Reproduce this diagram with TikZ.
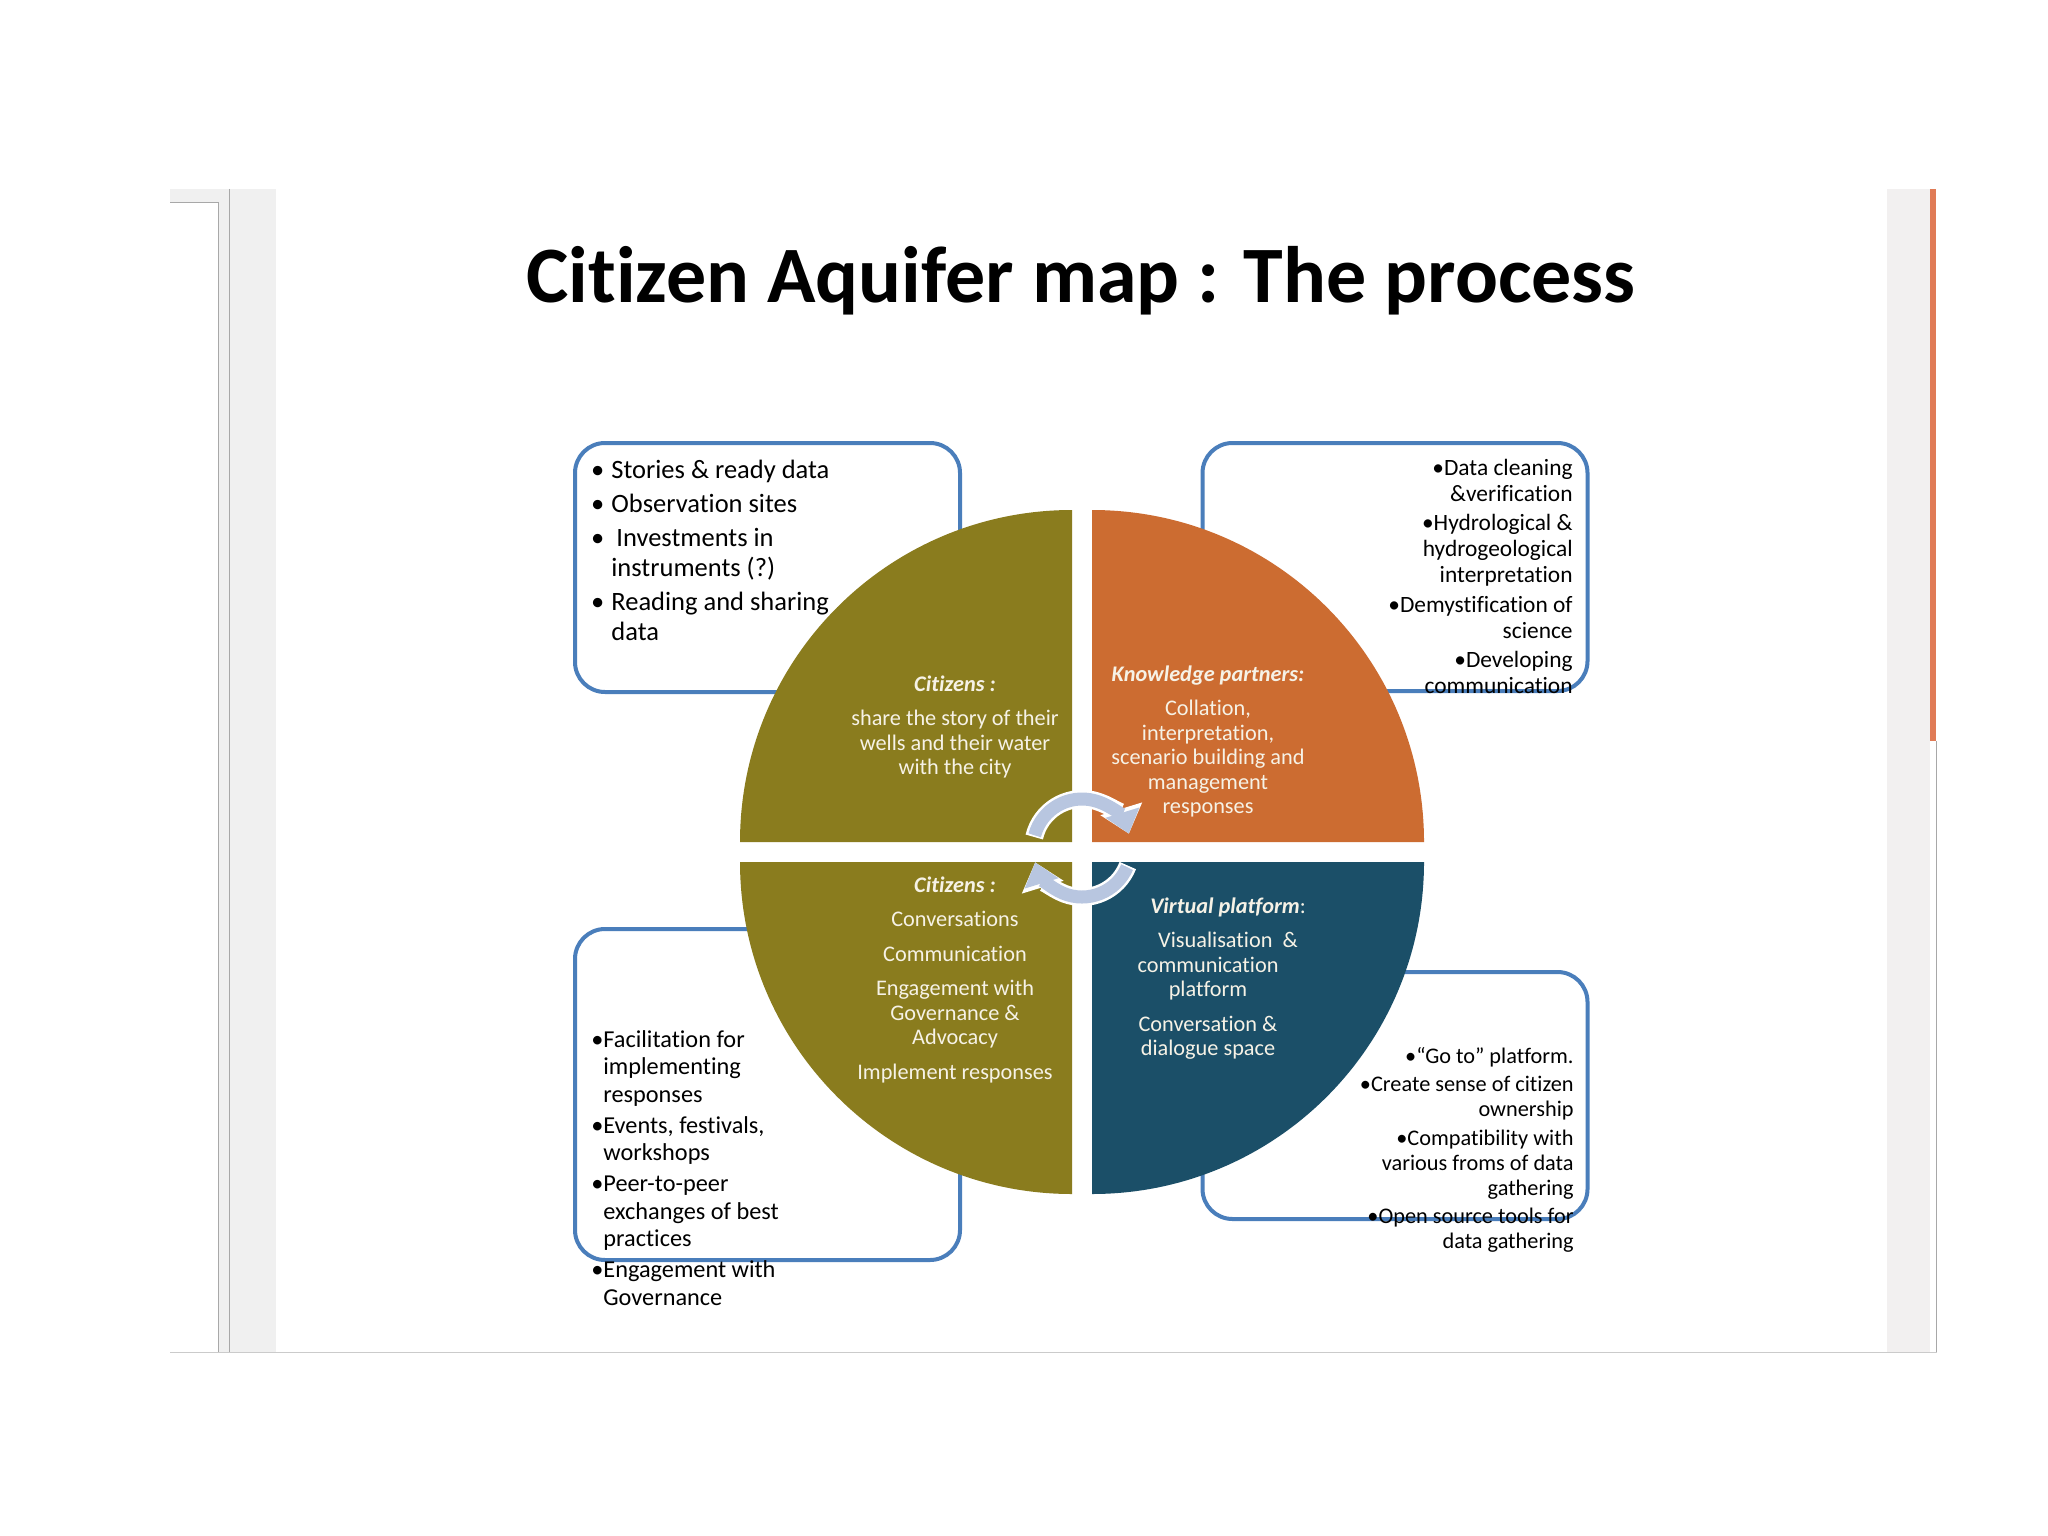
\documentclass[tikz,border=0pt]{standalone}
\usepackage{fontspec}
\setmainfont{Carlito}[Ligatures={NoCommon}]
\usetikzlibrary{arrows.meta}
\definecolor{olivequad}{HTML}{8A7C1E}
\definecolor{orangequad}{HTML}{CC6C31}
\definecolor{bluequad}{HTML}{1B4F68}
\definecolor{frameblue}{HTML}{4A7EBB}
\definecolor{loopfill}{HTML}{B8C6E0}
\definecolor{quadtext}{HTML}{F6F2E6}
\definecolor{panegray}{HTML}{F0F0F0}
\definecolor{sidegray}{HTML}{F2F0F0}
\definecolor{edgeline}{HTML}{A8A8A8}
\definecolor{accentbar}{HTML}{E07B56}
\tikzset{
  listframe/.style = {rectangle, draw=frameblue, line width=2pt, rounded corners=15pt,
                      minimum width=192.5pt},
  bullets/.style   = {inner sep=0pt, text=black},
  quadlabel/.style = {inner sep=0pt, align=center, text=quadtext,
                      font=\fontsize{11.15pt}{12.25pt}\selectfont},
  loopband/.style  = {line width=6.5pt, draw=loopfill, -{Triangle[width=17pt,length=11pt]}},
  loophalo/.style  = {line width=9pt, draw=white, -{Triangle[width=21pt,length=13pt]}},
}

\begin{document}
\begin{tikzpicture}[x=0.5pt, y=-0.5pt]
      \useasboundingbox (0,0) rectangle (2048,1535);
      \fill[white] (0,0) rectangle (2048,1535);
      \fill[panegray] (218,189) rectangle (276,1352);
      \fill[panegray] (170,189) rectangle (218,203);
      \draw[edgeline, line width=0.5pt] (170,203) -- (218,203) -- (218,1352);
      \draw[edgeline, line width=0.5pt] (229,189) -- (229,1352);
      \fill[sidegray] (1887,189) rectangle (1930,1352);
      \fill[accentbar] (1930,189) rectangle (1936,741);
      \draw[edgeline, line width=0.5pt] (1936.5,741) -- (1936.5,1352);
      \draw[edgeline!60, line width=0.5pt] (170,1352) -- (1937,1352);

      \node[font=\fontsize{40pt}{48pt}\selectfont\bfseries, anchor=base] (title) at (1081,303)
        {Citizen Aquifer map : The process};

      \node[listframe, minimum height=124.5pt] (citizenbox)  at (767.5,567.5)  {};
      \node[listframe, minimum height=124pt]   (partnerbox)  at (1395,567)    {};
      \node[listframe, minimum height=165.5pt] (supportbox)  at (767.5,1094.5) {};
      \node[listframe, minimum height=123.5pt] (platformbox) at (1395,1095.5) {};

      \fill[olivequad]  (1072,842) -- ++(-332,0) arc[start angle=180, end angle=270, radius=332] -- cycle;
      \fill[orangequad] (1092,842) -- ++(0,-332) arc[start angle=270, end angle=360, radius=332] -- cycle;
      \fill[olivequad]  (1072,862) -- ++(0,332) arc[start angle=90, end angle=180, radius=332] -- cycle;
      \fill[bluequad]   (1092,862) -- ++(332,0) arc[start angle=0, end angle=90, radius=332] -- cycle;

      \coordinate (hub) at (1082,848);
      \draw[loophalo] (hub) ++(193:49) arc[start angle=193, end angle=343, radius=49];
      \draw[loopband] (hub) ++(195:49) arc[start angle=195, end angle=343, radius=49];
      \draw[loophalo] (hub) ++(21:49) arc[start angle=21, end angle=163, radius=49];
      \draw[loopband] (hub) ++(23:49) arc[start angle=23, end angle=163, radius=49];

      \node[quadlabel, anchor=north] (sharetext) at (955,675)
        {\textbf{\textit{Citizens :}}\\[5pt] share the story of their\\ wells and their water\\ with the city};
      \node[quadlabel, anchor=north] (knowtext) at (1208,665)
        {\textbf{\textit{Knowledge partners:}}\\[5pt] Collation,\\ interpretation,\\ scenario building and\\ management\\ responses};
      \node[quadlabel, anchor=north] (talktext) at (955,876)
        {\textbf{\textit{Citizens :}}\\[5pt] Conversations\\[5pt] Communication\\[5pt] Engagement with\\ Governance \&\\ Advocacy\\[5pt] Implement responses};
      \node[quadlabel, anchor=north] (virtualtext) at (1208,897)
        {\hspace*{20pt}\textbf{\textit{Virtual platform}}:\\[5pt] \hspace*{20pt}Visualisation\ \ \&\\ communication\\ platform\\[5pt] Conversation \&\\ dialogue space};

      \node[bullets, anchor=north west, align=left, font=\fontsize{13.25pt}{15pt}\selectfont] (citizenlist) at (611,459.5)
        {\llap{•\hspace{3.5pt}}Stories \& ready data\\[2pt] \llap{•\hspace{3.5pt}}Observation sites\\[2pt]
         \llap{•\hspace{3.5pt}}\hspace*{2.5pt}Investments in\\ instruments (?)\\[2pt] \llap{•\hspace{3.5pt}}Reading and sharing\\ data};
      \node[bullets, anchor=north east, align=right, font=\fontsize{11.7pt}{13pt}\selectfont] (partnerlist) at (1573,458.5)
        {•Data cleaning\\ \&verification\\[1.75pt] •Hydrological \&\\ hydrogeological\\ interpretation\\[1.75pt]
         •Demystification of\\ science\\[1.75pt] •Developing\\ communication};
      \node[bullets, anchor=north west, align=left, font=\fontsize{12.15pt}{13.75pt}\selectfont] (supportlist) at (603,1030)
        {\llap{•}Facilitation for\\ implementing\\ responses\\[1.75pt] \llap{•}Events, festivals,\\ workshops\\[1.75pt]
         \llap{•}Peer-to-peer\\ exchanges of best\\ practices\\[1.75pt] \llap{•}Engagement with\\ Governance};
      \node[bullets, anchor=north east, align=right, font=\fontsize{11.15pt}{12.5pt}\selectfont] (platformlist) at (1574,1047)
        {•“Go to” platform.\\[1.67pt] •Create sense of citizen\\ ownership\\[1.67pt] •Compatibility with\\ various froms of data\\ gathering\\[1.67pt]
         •Open source tools for\\ data gathering};
    \end{tikzpicture}
\end{document}
